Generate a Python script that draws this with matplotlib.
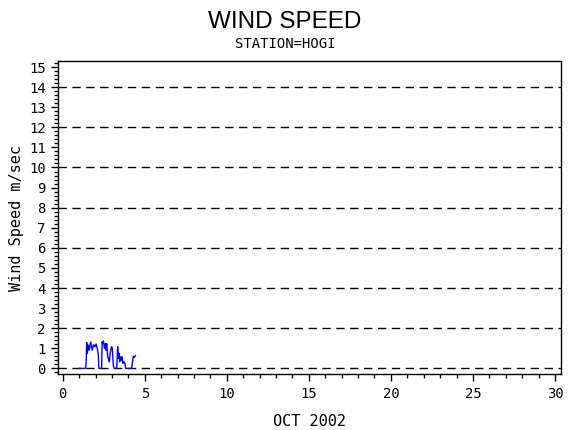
import numpy as np
import matplotlib
matplotlib.use('Agg')
import matplotlib.pyplot as plt
from matplotlib.ticker import MultipleLocator

# day of month (Oct 2002) and wind speed in m/sec
day = [0.99, 1.40, 1.43, 1.46, 1.50, 1.56, 1.62, 1.70, 1.76, 1.80,
       1.87, 1.93, 1.97, 2.03, 2.13, 2.17, 2.20, 2.37, 2.40, 2.43,
       2.48, 2.54, 2.60, 2.64, 2.68, 2.74, 2.78, 2.84, 2.88, 2.92,
       2.98, 3.02, 3.08, 3.14, 3.29, 3.35, 3.39, 3.43, 3.47, 3.51,
       3.57, 3.61, 3.67, 3.73, 3.79, 3.83, 4.20, 4.30, 4.36, 4.43]
speed = [0.0, 0.0, 0.41, 1.29, 0.75, 1.16, 0.91, 1.32, 1.08, 0.91,
         1.16, 1.16, 1.08, 1.21, 0.91, 0.66, 0.0, 0.0, 1.32, 1.24,
         1.36, 1.00, 1.24, 0.91, 1.24, 0.58, 0.50, 0.33, 0.66, 0.91,
         1.08, 1.00, 0.16, 0.0, 0.0, 1.08, 0.50, 0.75, 0.33, 0.58,
         0.41, 0.58, 0.25, 0.33, 0.25, 0.0, 0.0, 0.61, 0.55, 0.63]

grid_levels = [0, 2, 4, 6, 8, 10, 12, 14]

font = 'DejaVu Sans Mono'

fig = plt.figure(figsize=(5.7, 4.3), dpi=100)
ax = fig.add_axes([0.1023, 0.1302, 0.8814, 0.7279])

for g in grid_levels:
    ax.axhline(g, color='black', lw=1, ls=(0, (6, 4)), zorder=1)

ax.plot(day, speed, color='blue', lw=1, zorder=2)

ax.set_xlim(-0.27, 30.35)
ax.set_ylim(-0.28, 15.3)
ax.xaxis.set_major_locator(MultipleLocator(5))
ax.xaxis.set_minor_locator(MultipleLocator(1))
ax.yaxis.set_major_locator(MultipleLocator(1))
ax.yaxis.set_minor_locator(MultipleLocator(0.2))
ax.tick_params(axis='both', which='major', direction='out', length=5, width=1,
               labelsize=10, pad=4)
ax.tick_params(axis='both', which='minor', direction='out', length=3, width=1)
for lab in ax.get_xticklabels() + ax.get_yticklabels():
    lab.set_family(font)
for sp in ax.spines.values():
    sp.set_linewidth(1)

ax.set_xlabel('OCT 2002', family=font, fontsize=11, labelpad=10)
ax.set_ylabel('Wind Speed m/sec', family=font, fontsize=11, labelpad=4)

fig.text(0.5, 0.950, 'WIND SPEED', ha='center', va='center',
         family='Liberation Sans', fontsize=17.5)
fig.text(0.5, 0.897, 'STATION=HOGI', ha='center', va='center',
         family=font, fontsize=10)

fig.savefig('out.png', dpi=100)
